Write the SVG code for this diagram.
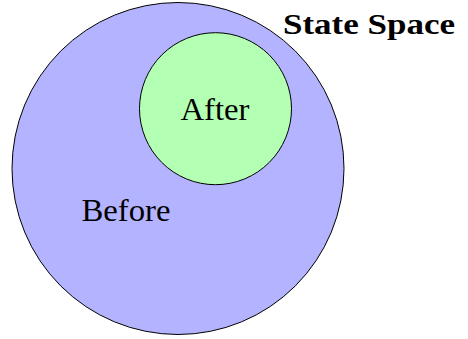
<svg xmlns="http://www.w3.org/2000/svg" width="468" height="339" viewBox="0 0 468 339">
<style>
.c{stroke:#000;stroke-width:1}
.t{font-family:'Liberation Serif','DejaVu Serif',serif;font-size:32px;fill:#000}
.b{font-weight:bold;font-size:30px}
</style>
<g id="before"><circle class="c" cx="178" cy="168.5" r="166" fill="#b3b3ff"/>
<text class="t" x="126" y="221" text-anchor="middle" textLength="89" lengthAdjust="spacingAndGlyphs">Before</text></g>
<g id="after"><circle class="c" cx="215.5" cy="108.7" r="76" fill="#b3ffb3"/>
<text class="t" x="215" y="120" text-anchor="middle" textLength="69" lengthAdjust="spacingAndGlyphs">After</text></g>
<g id="label"><text class="t b" x="369" y="34" text-anchor="middle" textLength="172" lengthAdjust="spacingAndGlyphs">State Space</text></g>
<g id="connectors"/>
</svg>
